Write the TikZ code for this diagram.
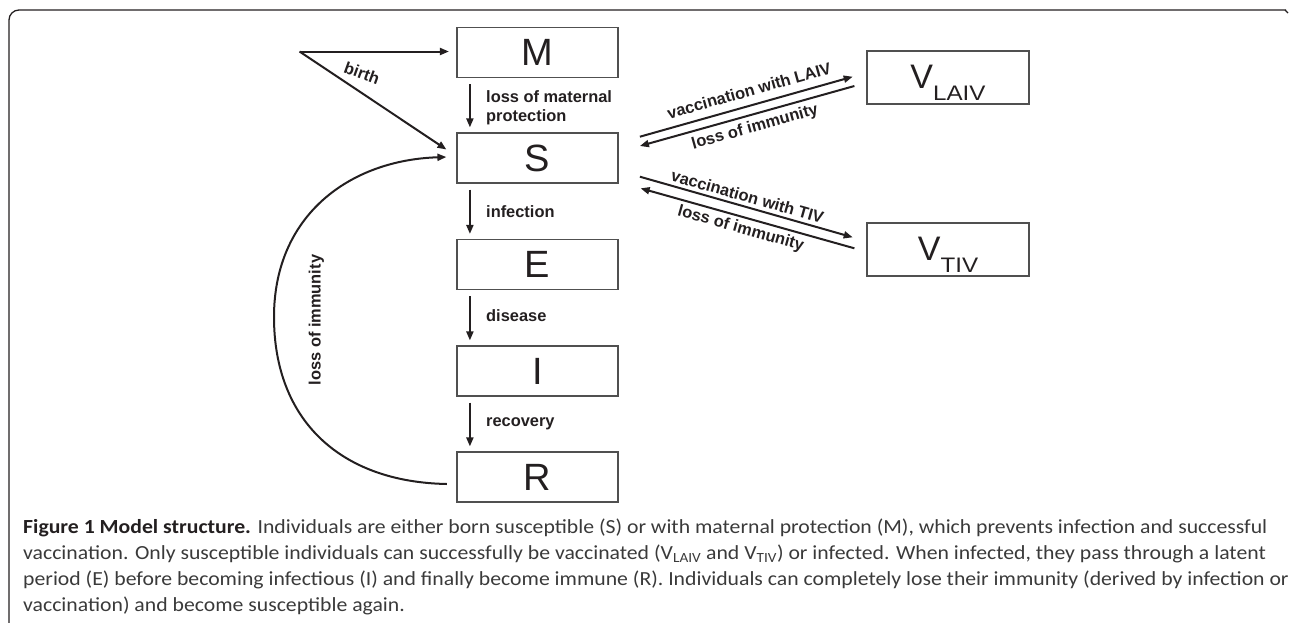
\documentclass[tikz,border=0pt]{standalone}
\usepackage{fontspec}
\setmainfont{Liberation Sans}
\newfontfamily\capfont[FakeStretch=1.086]{Carlito}
\usetikzlibrary{arrows.meta,calc}
\definecolor{ink}{HTML}{231F20}
\definecolor{boxgray}{HTML}{505050}
\definecolor{captext}{HTML}{3A3A3A}
\newcommand{\vsub}[1]{\raisebox{-11.7pt}{\fontsize{21}{21}\selectfont\scalebox{1.15}[1]{#1}}}
\begin{document}
\begin{tikzpicture}[x=1pt,y=-1pt,
  box/.style={draw=boxgray, line width=1.2pt, minimum width=161pt, minimum height=50pt,
    inner sep=0pt, text=ink, font=\fontsize{38}{38}\selectfont},
  vbox/.style={box, minimum width=162pt, minimum height=53pt, text height=26pt, text depth=4.4pt,
    font=\fontsize{34}{34}\selectfont},
  arr/.style={line width=2pt, draw=ink, -{Triangle[length=9pt,width=7pt]}},
  lab/.style={font=\bfseries\fontsize{16.4}{19}\selectfont, text=ink, inner sep=0pt, align=left},
  frame/.style={draw=ink, line width=1.3pt},
]
\useasboundingbox (0,0) rectangle (1290,622);
% frame
\draw[frame, rounded corners=10pt] (9,623) -- (9,10) -- (1286,10);
\draw[frame] (1285,10) -- (1288,13);

% boxes
\node[box] (M) at (537.5,52.5) {M};
\node[box] (S) at (537.5,158) {S};
\node[box] (E) at (537.5,264.5) {E};
\node[box] (I) at (537.5,371) {I};
\node[box] (R) at (537.5,477) {R};
\node[vbox] (VL) at (948,77.5) {V\vsub{LAIV}};
\node[vbox] (VT) at (948,249.5) {V\vsub{TIV}};

% birth
\coordinate (b0) at (299.5,51.5);
\draw[arr] (b0) -- ($(M.west)+(-7.5,-1)$);
\draw[arr] (b0) -- ($(S.west)+(-10,-8.5)$);
\node[lab, rotate=-20] (lbirth) at (362,73) {birth};

% vertical chain
\draw[arr, shorten <=6pt, shorten >=5pt] ([xshift=13.5pt]M.south west) -- ([xshift=13.5pt]S.north west);
\draw[arr, shorten <=6pt, shorten >=5pt] ([xshift=13.5pt]S.south west) -- ([xshift=13.5pt]E.north west);
\draw[arr, shorten <=6pt, shorten >=5pt] ([xshift=13.5pt]E.south west) -- ([xshift=13.5pt]I.north west);
\draw[arr, shorten <=6pt, shorten >=5pt] ([xshift=13.5pt]I.south west) -- ([xshift=13.5pt]R.north west);
\node[lab, anchor=west] (l1) at (486,107.5) {loss of maternal\\protection};
\node[lab, anchor=west] (l2) at (486,212) {infection};
\node[lab, anchor=west] (l3) at (486,316) {disease};
\node[lab, anchor=west] (l4) at (486,424) {recovery};

% loss of immunity loop
\draw[line width=2pt, draw=ink, -{Triangle[length=9pt,width=7pt]}]
  ($(R.west)+(-9.5,7)$) .. controls (340,482) and (274,420) .. (274,317)
  .. controls (274,215) and (350,160) .. ($(S.west)+(-10,-1)$);
\node[lab, rotate=90] (lloop) at (316.5,320) {loss of immunity};

% vaccination arrows
\draw[arr] ($(S.east)+(21.3,-21.3)$) -- ($(VL.west)+(-13.7,-0.8)$);
\draw[arr] ($(VL.west)+(-12,8.5)$) -- ($(S.east)+(21.3,-12)$);
\draw[arr] ($(S.east)+(21.3,18.7)$) -- ($(VT.west)+(-13.7,-12.2)$);
\draw[arr] ($(VT.west)+(-12,-1.2)$) -- ($(S.east)+(22,30.3)$);
\node[lab, rotate=15.7] (lv1) at (749,90.5) {vaccination with LAIV};
\node[lab, rotate=15.7] (li1) at (755,127.5) {loss of immunity};
\node[lab, rotate=-15.8] (lv2) at (747.5,196.5) {vaccination with TIV};
\node[lab, rotate=-15.8] (li2) at (740.7,229) {loss of immunity};

% caption
\node[anchor=base west, inner sep=0pt, align=left, text=captext,
  font=\capfont\fontsize{20}{25.8}\selectfont] (cap) at (23,611)
  {{\color{ink}\bfseries Figure 1 Model structure.} Individuals are either born susceptible (S) or with maternal protection (M), which prevents infection and successful\\
   vaccination. Only susceptible individuals can successfully be vaccinated (V\textsubscript{LAIV} and V\textsubscript{TIV}) or infected. When infected, they pass through a latent\\
   period (E) before becoming infectious (I) and finally become immune (R). Individuals can completely lose their immunity (derived by infection or\\
   vaccination) and become susceptible again.};
\end{tikzpicture}
\end{document}
